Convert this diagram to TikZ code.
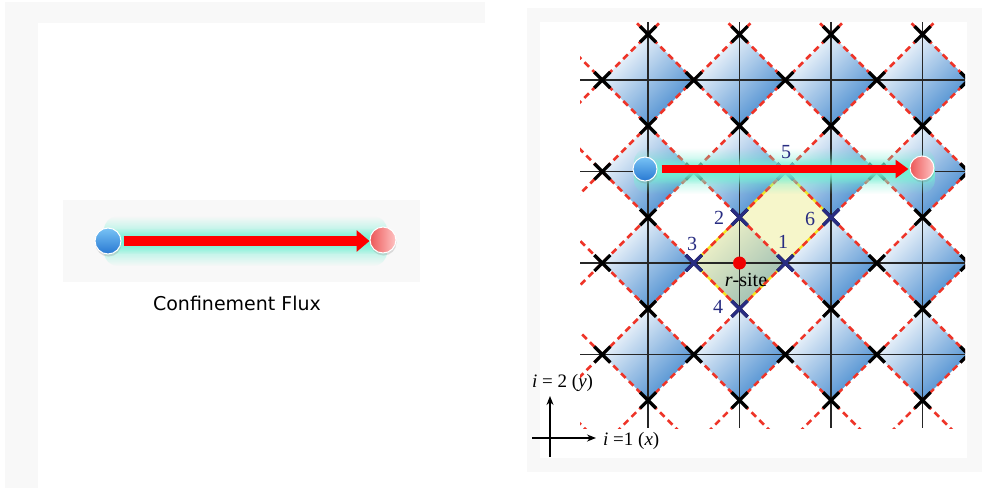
\documentclass[tikz,border=0pt]{standalone}
\usepackage{fontspec}
\setmainfont{Liberation Serif}
\newfontfamily\versans{DejaVu Sans}
\usetikzlibrary{arrows.meta,fadings,shadows}
\definecolor{navyx}{RGB}{40,44,130}
\definecolor{dashred}{RGB}{238,52,40}
\definecolor{glowc}{RGB}{115,240,212}
\definecolor{dblue}{RGB}{66,136,206}
\definecolor{yfillc}{RGB}{238,238,150}
\definecolor{ylinec}{RGB}{245,228,30}
\definecolor{texgray}{RGB}{248,248,248}
\definecolor{ballhi}{RGB}{120,195,245}
\definecolor{balllo}{RGB}{40,120,210}
\definecolor{pinklo}{RGB}{236,88,88}
\definecolor{pinkhi}{RGB}{255,196,196}
\tikzfading[name=glowfade, top color=transparent!100, bottom color=transparent!100, middle color=transparent!0]
\begin{document}
\begin{tikzpicture}[x=1pt,y=-1pt,
  gridl/.style={line width=1.5pt, black!85},
  dashl/.style={line width=2.5pt, dashred, dash pattern=on 6.5pt off 4.5pt},
  crossk/.style={line width=3.2pt, black},
  crossn/.style={line width=3.2pt, navyx},
  blueball/.style={circle, minimum size=26pt, inner sep=0pt, top color=ballhi, bottom color=balllo, draw=white, line width=1pt, drop shadow={shadow xshift=0.5pt, shadow yshift=-2.5pt, opacity=0.25}},
  pinkball/.style={circle, minimum size=26pt, inner sep=0pt, left color=pinklo, right color=pinkhi, draw=white, line width=1pt, drop shadow={shadow xshift=0.5pt, shadow yshift=-2.5pt, opacity=0.25}},
  redarrow/.style={red, line width=#1, -{Triangle[length=13pt, width=2.1*#1]}},
  numlab/.style={text=navyx, font=\fontsize{20}{22}\selectfont, inner sep=0pt},
  axlab/.style={font=\fontsize{19}{22}\selectfont, inner sep=0pt, anchor=west},
  axarrow/.style={line width=1.4pt, -{Stealth[length=9pt, width=7pt]}},
  glowwide/.style={glowc, path fading=glowfade, fill opacity=0.75, rounded corners=14pt},
  glowcore/.style={glowc, path fading=glowfade, rounded corners=10pt}
]
\useasboundingbox (0,0) rectangle (982,488);
% panel backgrounds
\fill[texgray] (5,2) rectangle (485,488);
\fill[white] (38,23) rectangle (486,488);
\fill[texgray] (527,8) rectangle (982,472);
\fill[white] (540,22) rectangle (967,458);
\fill[texgray] (63,200) rectangle (420,282);

% ---------------- left panel ----------------
\fill[glowwide] (104,216) rectangle (387,266);
\fill[glowcore] (104,228) rectangle (387,254);
\node[blueball] (b1) at (108,241) {};
\node[pinkball] (p1) at (383,240) {};
\draw[redarrow=10pt, shorten <=2pt] (b1) -- (p1.west |- b1);
\node[font=\versans\fontsize{19}{22}\selectfont] (cap) at (237,303) {Confinement Flux};

% ---------------- right panel: lattice ----------------
\coordinate (s1) at (785.25,263);
\coordinate (s2) at (739.5,217.25);
\coordinate (s3) at (693.75,263);
\coordinate (s4) at (739.5,308.75);
\coordinate (s5) at (785.25,171.5);
\coordinate (s6) at (831,217.25);
\coordinate (rs) at (739.5,263);
\begin{scope}
\clip (580,22) rectangle (965,428);
\foreach \i in {0,...,3} \foreach \j in {0,...,3} {
  \pgfmathsetmacro\vx{648+91.5*\i}
  \pgfmathsetmacro\vy{80+91.5*\j}
  \shade[top color=white, bottom color=dblue, shading angle=45]
    (\vx-45.75,\vy) -- (\vx,\vy-45.75) -- (\vx+45.75,\vy) -- (\vx,\vy+45.75) -- cycle;
}
\fill[yfillc, fill opacity=0.5] (s3) -- (s5) -- (s6) -- (s4) -- cycle;
\foreach \i in {0,...,3} {
  \draw[gridl] (648+91.5*\i,22) -- (648+91.5*\i,428);
  \draw[gridl] (580,80+91.5*\i) -- (965,80+91.5*\i);
}
\draw[ylinec, line width=2.4pt, line join=round] (s3) -- (s5) -- (s6) -- (s4) -- cycle;
\foreach \k in {-4,...,4}
  \draw[dashl] (522.25+91.5*\k,0) -- ++(450,450);
\foreach \k in {0,...,7}
  \draw[dashl] (682.25+91.5*\k,0) -- ++(-450,450);
\foreach \i in {0,...,4} \foreach \j in {0,...,3} {
  \draw[crossk] (602.25+91.5*\i-8,80+91.5*\j-8) -- ++(16,16)
                (602.25+91.5*\i-8,80+91.5*\j+8) -- ++(16,-16);
}
\foreach \i in {0,...,3} \foreach \j in {0,...,4} {
  \draw[crossk] (648+91.5*\i-8,34.25+91.5*\j-8) -- ++(16,16)
                (648+91.5*\i-8,34.25+91.5*\j+8) -- ++(16,-16);
}
\foreach \p in {s1,s2,s3,s4,s5,s6} {
  \draw[crossn] ([xshift=-8pt,yshift=8pt]\p) -- ++(16,16)
                ([xshift=-8pt,yshift=-8pt]\p) -- ++(16,-16);
}
\end{scope}
\fill[red!90!black!60!red] (rs) circle (6.5);

% confinement flux on the lattice
\fill[glowwide] (634,148) rectangle (935,194);
\fill[glowcore] (634,158) rectangle (935,184);
\node[blueball, minimum size=24pt] (b2) at (645,169) {};
\node[pinkball, minimum size=24pt] (p2) at (922,168) {};
\draw[redarrow=8.5pt, shorten <=4pt, shorten >=1pt] (b2) -- (p2.west |- b2);

% labels
\node[numlab] (n1) at (783,242) {1};
\node[numlab] (n2) at (719,218) {2};
\node[numlab] (n3) at (692,244) {3};
\node[numlab] (n4) at (718,307) {4};
\node[numlab] (n5) at (786,152) {5};
\node[numlab] (n6) at (810,219) {6};
\node[font=\fontsize{20}{22}\selectfont, inner sep=0pt] (rl) at (746,280) {\textit{r}-site};

% axes
\coordinate (oy0) at (550,457);
\coordinate (oy1) at (550,396);
\coordinate (ox0) at (532,438);
\coordinate (ox1) at (596,438);
\draw[axarrow] (oy0) -- (oy1);
\draw[axarrow] (ox0) -- (ox1);
\node[axlab] (ly) at (532,383) {\textit{i} = 2 (\textit{y})};
\node[axlab] (lx) at (603,441) {\textit{i} =1 (\textit{x})};
\end{tikzpicture}
\end{document}
